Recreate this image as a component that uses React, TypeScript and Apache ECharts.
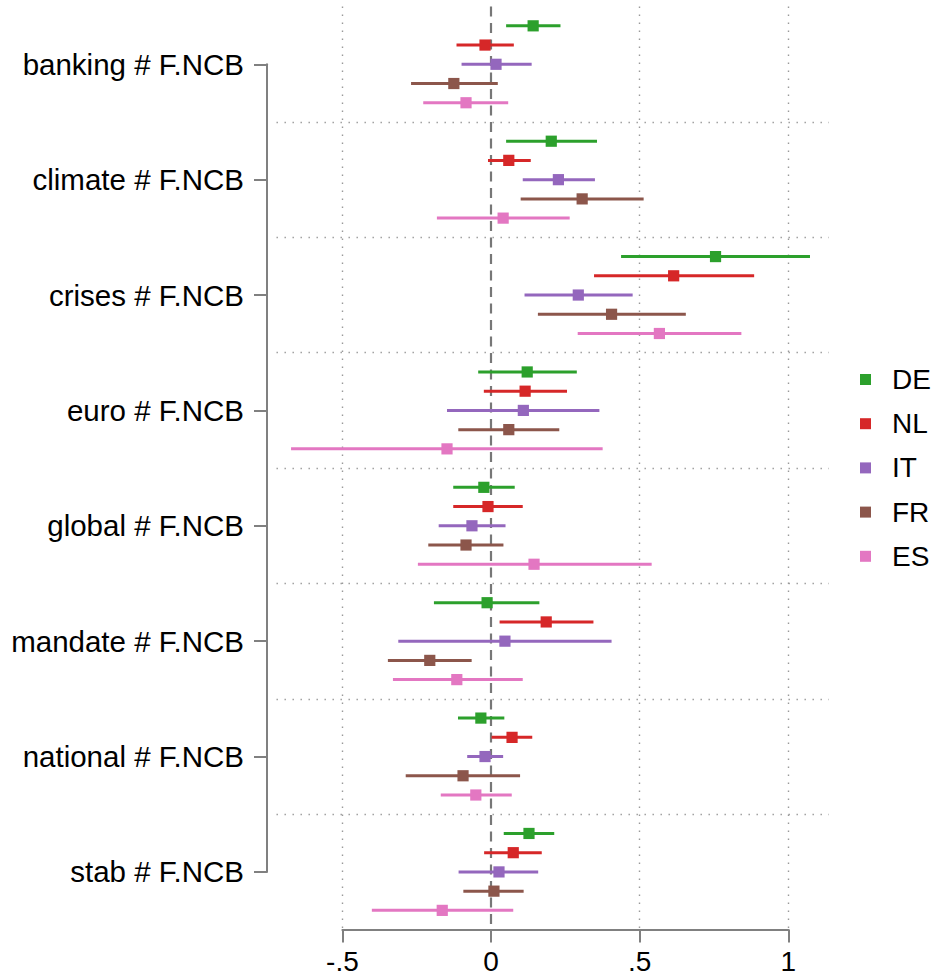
import React, { useEffect, useRef } from "react";
import * as echarts from "echarts";

const categories = [
  "banking # F.NCB",
  "climate # F.NCB",
  "crises # F.NCB",
  "euro # F.NCB",
  "global # F.NCB",
  "mandate # F.NCB",
  "national # F.NCB",
  "stab # F.NCB",
];
const countries = ["DE", "NL", "IT", "FR", "ES"];
const colors = ["#2ca02c", "#d62728", "#9467bd", "#8c564b", "#e377c2"];

const DE_est = [0.142, 0.203, 0.756, 0.122, -0.024, -0.013, -0.034, 0.128];
const DE_lo = [0.051, 0.051, 0.438, -0.043, -0.127, -0.192, -0.111, 0.043];
const DE_hi = [0.234, 0.357, 1.074, 0.289, 0.08, 0.163, 0.045, 0.213];

const NL_est = [-0.02, 0.06, 0.615, 0.115, -0.01, 0.186, 0.071, 0.075];
const NL_lo = [-0.116, -0.01, 0.347, -0.024, -0.127, 0.029, 0.002, -0.023];
const NL_hi = [0.077, 0.134, 0.886, 0.256, 0.107, 0.345, 0.139, 0.171];

const IT_est = [0.017, 0.227, 0.294, 0.109, -0.064, 0.047, -0.02, 0.027];
const IT_lo = [-0.099, 0.107, 0.113, -0.148, -0.176, -0.312, -0.08, -0.109];
const IT_hi = [0.137, 0.35, 0.477, 0.365, 0.049, 0.406, 0.041, 0.159];

const FR_est = [-0.125, 0.307, 0.406, 0.06, -0.084, -0.206, -0.094, 0.01];
const FR_lo = [-0.269, 0.1, 0.158, -0.11, -0.211, -0.347, -0.287, -0.093];
const FR_hi = [0.023, 0.514, 0.656, 0.23, 0.042, -0.065, 0.098, 0.11];

const ES_est = [-0.084, 0.041, 0.567, -0.148, 0.145, -0.115, -0.051, -0.164];
const ES_lo = [-0.228, -0.182, 0.292, -0.673, -0.246, -0.33, -0.169, -0.401];
const ES_hi = [0.058, 0.265, 0.843, 0.376, 0.541, 0.107, 0.07, 0.075];

const xTickValues = [-0.5, 0, 0.5, 1];
const xTickLabels = ["-.5", "0", ".5", "1"];

const ests = [DE_est, NL_est, IT_est, FR_est, ES_est];
const los = [DE_lo, NL_lo, IT_lo, FR_lo, ES_lo];
const his = [DE_hi, NL_hi, IT_hi, FR_hi, ES_hi];

const FONT = "'Liberation Sans', Arial, Helvetica, sans-serif";
const SLOTS = 6; // per group: 5 countries + gap

export default function App() {
  const ref = useRef<HTMLDivElement>(null);
  useEffect(() => {
    document.body.style.margin = "0";
    const chart = echarts.init(ref.current!, null, { renderer: "svg" });

    const plotTop = 6.6;
    const plotH = 923;
    const slotPx = plotH / (categories.length * SLOTS);

    const series: any[] = countries.map((name, k) => ({
      name,
      type: "custom",
      xAxisIndex: 0,
      yAxisIndex: 0,
      itemStyle: { color: colors[k] },
      z: 5,
      renderItem: (params: any, api: any) => {
        const y = api.value(0);
        const p1 = api.coord([api.value(1), y]);
        const p2 = api.coord([api.value(2), y]);
        const pe = api.coord([api.value(3), y]);
        return {
          type: "group",
          children: [
            {
              type: "line",
              shape: { x1: p1[0], y1: p1[1], x2: p2[0], y2: p2[1] },
              style: { stroke: colors[k], lineWidth: 3 },
            },
            {
              type: "rect",
              shape: { x: pe[0] - 5.6, y: pe[1] - 5.6, width: 11.2, height: 11.2 },
              style: { fill: colors[k] },
            },
          ],
        };
      },
      encode: { x: [1, 2, 3], y: 0 },
      data: categories.map((c, g) => [
        g * SLOTS + k + 1,
        los[k][g],
        his[k][g],
        ests[k][g],
      ]),
    }));

    // reference lines (grid separators, vertical grid, zero line)
    series.push({
      type: "custom",
      name: "_ref",
      xAxisIndex: 0,
      yAxisIndex: 0,
      renderItem: () => ({ type: "group", children: [] }),
      data: [],
      z: 1,
      silent: true,
      markLine: {
        silent: true,
        symbol: "none",
        label: { show: false },
        animation: false,
        data: [
          ...categories.slice(1).map((c, g) => ({
            yAxis: (g + 1) * SLOTS,
            lineStyle: { color: "#9a9a9a", width: 1.4, type: [1.4, 6.6] },
          })),
          ...xTickValues
            .filter((v) => v !== 0)
            .map((v) => ({
              xAxis: v,
              lineStyle: { color: "#9a9a9a", width: 1.4, type: [1.4, 6.6] },
            })),
          {
            xAxis: 0,
            lineStyle: { color: "#777777", width: 2.2, type: [10, 6.5] },
          },
        ],
      },
    });

    chart.setOption({
      animation: false,
      backgroundColor: "#ffffff",
      textStyle: { fontFamily: FONT },
      legend: {
        orient: "vertical",
        left: 860,
        top: 364.5,
        padding: 0,
        itemWidth: 11,
        itemHeight: 11,
        itemGap: 14.2,
        icon: "rect",
        selectedMode: false,
        textStyle: {
          fontSize: 28,
          lineHeight: 30,
          color: "#000",
          fontFamily: FONT,
          padding: [0, 0, 0, 16],
        },
        data: countries.map((n, i) => ({
          name: n,
          icon: "rect",
          itemStyle: { color: colors[i] },
        })),
      },
      grid: [
        { left: 276.5, width: 552.5, top: plotTop, height: plotH },
        { left: 342.4, width: 445.9, top: plotTop, height: plotH },
        {
          left: 267,
          width: 10,
          top: plotTop + 3 * slotPx,
          height: (categories.length - 1) * SLOTS * slotPx,
        },
      ],
      xAxis: [
        { gridIndex: 0, type: "value", min: -0.722, max: 1.138, show: false },
        {
          gridIndex: 1,
          type: "value",
          min: -0.5,
          max: 1,
          interval: 0.5,
          position: "bottom",
          axisLine: { show: true, lineStyle: { color: "#808080", width: 2 } },
          axisTick: {
            show: true,
            inside: false,
            length: 13,
            lineStyle: { color: "#808080", width: 2 },
          },
          splitLine: { show: false },
          axisLabel: {
            margin: 18,
            fontSize: 28,
            color: "#000",
            fontFamily: FONT,
            formatter: (v: number) => {
              const i = xTickValues.findIndex((t) => Math.abs(t - v) < 1e-9);
              return i >= 0 ? xTickLabels[i] : "";
            },
          },
        },
        { gridIndex: 2, type: "value", show: false },
      ],
      yAxis: [
        {
          gridIndex: 0,
          type: "value",
          min: 0,
          max: categories.length * SLOTS,
          inverse: true,
          show: false,
        },
        { gridIndex: 1, type: "value", show: false },
        {
          gridIndex: 2,
          type: "value",
          min: 0,
          max: (categories.length - 1) * SLOTS,
          interval: SLOTS,
          inverse: true,
          position: "left",
          axisLine: { show: true, lineStyle: { color: "#808080", width: 2 } },
          axisTick: {
            show: true,
            inside: false,
            length: 13,
            lineStyle: { color: "#808080", width: 2 },
          },
          splitLine: { show: false },
          axisLabel: {
            margin: 23,
            fontSize: 29.5,
            color: "#000",
            fontFamily: FONT,
            formatter: (v: number) => categories[Math.round(v / SLOTS)] ?? "",
          },
        },
      ],
      series,
    });
    return () => chart.dispose();
  }, []);
  return <div ref={ref} style={{ width: 934, height: 979 }} />;
}
